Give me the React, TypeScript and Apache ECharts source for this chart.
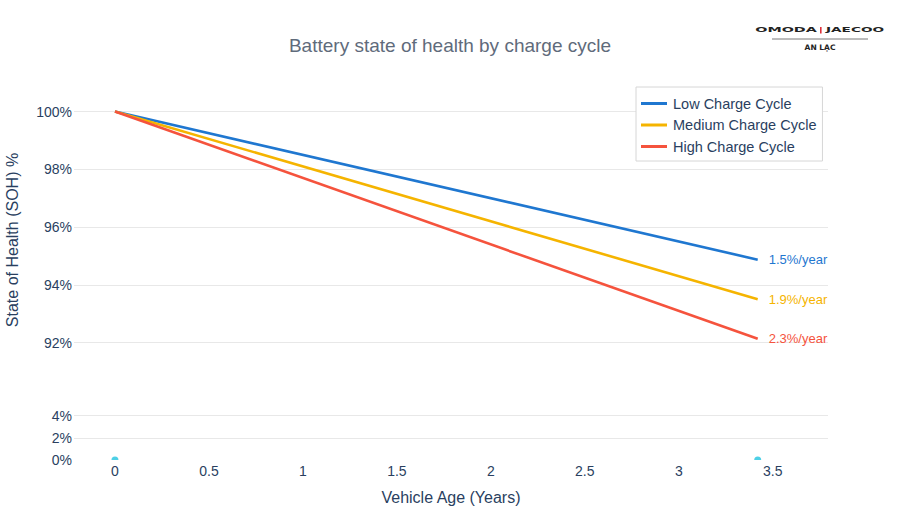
import * as echarts from 'echarts';
import { useEffect, useRef } from 'react';

// vehicle age (years) at start / end of each line
const ages = [0, 3.42];
const lowCycle = [100, 94.87];
const mediumCycle = [100, 93.5];
const highCycle = [100, 92.13];
const seriesNames = ['Low Charge Cycle', 'Medium Charge Cycle', 'High Charge Cycle'];
const rateLabels = ['1.5%/year', '1.9%/year', '2.3%/year'];
const colors = ['#1f77d0', '#f5b400', '#f5533d'];

const xTicks = [0, 0.5, 1, 1.5, 2, 2.5, 3, 3.5];
const upperTicks = [92, 94, 96, 98, 100];
const lowerTicks = [0, 2, 4];
const markerX = [0, 3.42];

const FONT = '"Liberation Sans", Arial, sans-serif';
const TEXT = '#2a3f5f';
const GRID = '#e8e8e8';

export default function App() {
  const elRef = useRef<HTMLDivElement | null>(null);

  useEffect(() => {
    if (!elRef.current) return;
    const chart = echarts.init(elRef.current, undefined, { renderer: 'svg' });

    const xMin = -0.218;
    const xMax = 3.794;
    const values = [lowCycle, mediumCycle, highCycle];

    chart.setOption({
      animation: false,
      backgroundColor: '#fff',
      textStyle: { fontFamily: FONT },
      title: {
        text: 'Battery state of health by charge cycle',
        left: 'center',
        top: 31,
        textStyle: { color: '#5f6b7b', fontSize: 19, fontWeight: 'normal', fontFamily: FONT }
      },
      legend: {
        left: 636,
        top: 87,
        orient: 'vertical',
        data: seriesNames,
        backgroundColor: '#fff',
        borderColor: '#d6d6d6',
        borderWidth: 1,
        padding: [9, 6, 7, 5],
        itemWidth: 26,
        itemHeight: 3,
        itemGap: 6.5,
        icon: 'rect',
        textStyle: { color: TEXT, fontSize: 14.5, fontFamily: FONT, padding: [0, 0, 0, 1] }
      },
      grid: [
        { left: 74, right: 72, top: 87, height: 270 },
        { left: 74, right: 72, top: 410, height: 50 }
      ],
      xAxis: [
        { gridIndex: 0, type: 'value', min: xMin, max: xMax, show: false },
        {
          gridIndex: 1,
          type: 'value',
          min: xMin,
          max: xMax,
          axisLine: { show: false },
          axisTick: { show: false, customValues: xTicks },
          splitLine: { show: false },
          axisLabel: { customValues: xTicks, color: TEXT, fontSize: 14, margin: 4, showMinLabel: true, showMaxLabel: true }
        }
      ],
      yAxis: [
        {
          gridIndex: 0,
          type: 'value',
          min: 91.5,
          max: 100.85,
          axisLine: { show: false },
          axisTick: { show: false, customValues: upperTicks },
          axisLabel: { customValues: upperTicks, color: TEXT, fontSize: 14, margin: 2, formatter: (v: number) => v + '%' },
          splitLine: { lineStyle: { color: GRID, width: 1 } }
        },
        {
          gridIndex: 1,
          type: 'value',
          min: 0,
          max: 4.5,
          axisLine: { show: false },
          axisTick: { show: false, customValues: [2, 4] },
          axisLabel: { customValues: lowerTicks, color: TEXT, fontSize: 14, margin: 2, formatter: (v: number) => v + '%' },
          splitLine: { lineStyle: { color: GRID, width: 1 } }
        }
      ],
      series: [
        ...values.map((vals, i) => ({
          type: 'line',
          name: seriesNames[i],
          xAxisIndex: 0,
          yAxisIndex: 0,
          data: ages.map((a, j) => [a, vals[j]]),
          showSymbol: false,
          symbol: 'none',
          lineStyle: { width: 2.6, color: colors[i] },
          itemStyle: { color: colors[i] },
          endLabel: {
            show: true,
            formatter: rateLabels[i],
            distance: 11,
            color: colors[i],
            fontSize: 13,
            fontFamily: FONT
          }
        })),
        {
          // tiny markers sitting on the bottom edge, only upper half visible
          type: 'scatter',
          name: 'markers',
          xAxisIndex: 1,
          yAxisIndex: 1,
          data: markerX.map((x) => [x, 0]),
          symbol: 'path://M0,2 A2,2 0 0 1 4,2 Z',
          symbolSize: [7, 3.5],
          symbolOffset: [0, -1.75],
          clip: true,
          itemStyle: { color: '#22c4e0' }
        }
      ],
      graphic: [
        {
          type: 'text',
          x: 12,
          y: 240,
          rotation: Math.PI / 2,
          style: { text: 'State of Health (SOH) %', fill: TEXT, fontSize: 16, fontFamily: FONT, align: 'center', verticalAlign: 'middle' }
        },
        {
          type: 'text',
          x: 451,
          y: 497,
          style: { text: 'Vehicle Age (Years)', fill: TEXT, fontSize: 16, fontFamily: FONT, align: 'center', verticalAlign: 'middle' }
        },
        // brand logo
        {
          type: 'text',
          x: 786,
          y: 30,
          scaleX: 2.05,
          style: { text: 'OMODA', fill: '#222', fontSize: 7, fontWeight: 'bold', fontFamily: '"DejaVu Sans"', align: 'center', verticalAlign: 'middle' }
        },
        { type: 'rect', shape: { x: 820, y: 27, width: 1.6, height: 6.5 }, style: { fill: '#e0303a' } },
        {
          type: 'text',
          x: 855,
          y: 30,
          scaleX: 1.95,
          style: { text: 'JAECOO', fill: '#222', fontSize: 7, fontWeight: 'bold', fontFamily: '"DejaVu Sans"', align: 'center', verticalAlign: 'middle' }
        },
        { type: 'line', shape: { x1: 772, y1: 39, x2: 868, y2: 39 }, style: { stroke: '#555', lineWidth: 0.8 } },
        {
          type: 'text',
          x: 820,
          y: 47,
          style: { text: 'AN LẠC', fill: '#222', fontSize: 7.5, fontWeight: 'bold', fontFamily: '"DejaVu Sans"', align: 'center', verticalAlign: 'middle' }
        }
      ]
    });

    return () => chart.dispose();
  }, []);

  return <div ref={elRef} style={{ position: 'absolute', left: 0, top: 0, width: 900, height: 526 }} />;
}
